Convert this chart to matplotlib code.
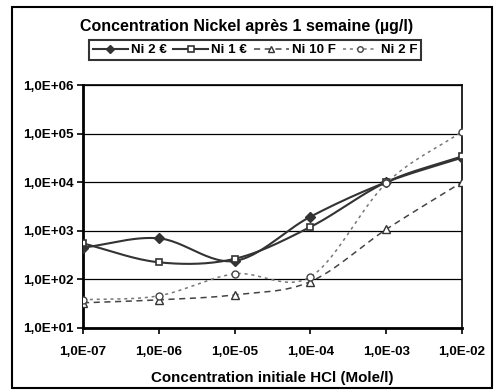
import numpy as np
import matplotlib.pyplot as plt
from matplotlib.lines import Line2D
from matplotlib.patches import Rectangle

plt.rcParams['font.family'] = ['Liberation Sans', 'DejaVu Sans']
plt.rcParams['font.weight'] = 'bold'

# data
x_labels = ["1,0E-07", "1,0E-06", "1,0E-05", "1,0E-04", "1,0E-03", "1,0E-02"]
ni_2_eur = [450, 700, 240, 1950, 10000, 32000]
ni_1_eur = [550, 225, 265, 1200, 10000, 34000]
ni_10_f = [33, 38, 48, 90, 1070, 10000]
ni_2_f = [38, 46, 130, 113, 9500, 110000]
y_ticks = [1e1, 1e2, 1e3, 1e4, 1e5, 1e6]
y_labels = ["1,0E+01", "1,0E+02", "1,0E+03", "1,0E+04", "1,0E+05", "1,0E+06"]


def smooth(xs, ys, n=30):
    # Catmull-Rom through the points, in log space (like Excel smoothed lines)
    xs = np.asarray(xs, float)
    ly = np.log10(ys)
    px = np.concatenate([[2 * xs[0] - xs[1]], xs, [2 * xs[-1] - xs[-2]]])
    py = np.concatenate([[2 * ly[0] - ly[1]], ly, [2 * ly[-1] - ly[-2]]])
    ox, oy = [], []
    t = np.linspace(0, 1, n)
    for i in range(1, len(px) - 2):
        p0, p1, p2, p3 = [np.array([px[j], py[j]]) for j in range(i - 1, i + 3)]
        m1 = (p2 - p0) / 6
        m2 = (p3 - p1) / 6
        for tt in t:
            b = ((1 - tt) ** 3 * p1 + 3 * (1 - tt) ** 2 * tt * (p1 + m1)
                 + 3 * (1 - tt) * tt ** 2 * (p2 - m2) + tt ** 3 * p2)
            ox.append(b[0])
            oy.append(b[1])
    return np.array(ox), 10 ** np.array(oy)


fig = plt.figure(figsize=(4.94, 3.90), dpi=100)
fig.patches.append(Rectangle((12 / 494, 1 - 388 / 390), 480 / 494, 381 / 390,
                             transform=fig.transFigure, fill=False, lw=1.5,
                             edgecolor='black'))

ax = fig.add_axes([83 / 494, 1 - 328 / 390, 379 / 494, 243 / 390])
xi = np.arange(len(x_labels))

series = [
    (ni_2_eur, "Ni 2 €", dict(color='#333333', ls='-', lw=1.5), dict(marker='D', ms=5, mfc='#333333', mec='#333333')),
    (ni_1_eur, "Ni 1 €", dict(color='#333333', ls='-', lw=1.5), dict(marker='s', ms=5, mfc='white', mec='#333333', mew=1.2)),
    (ni_10_f, "Ni 10 F", dict(color='#444444', ls=(0, (4, 3)), lw=1.1), dict(marker='^', ms=6, mfc='white', mec='#333333', mew=1.0)),
    (ni_2_f, "Ni 2 F", dict(color='#777777', ls=(0, (2, 2.5)), lw=1.1), dict(marker='o', ms=5, mfc='white', mec='#444444', mew=1.0)),
]

handles = []
for ys, name, lst, mst in series:
    sx, sy = smooth(xi, ys)
    ax.plot(sx, sy, **lst, zorder=3)
    ax.plot(xi, ys, ls='none', **mst, zorder=4)
    leg_mst = dict(mst)
    leg_mst['ms'] = mst['ms'] - 1
    handles.append(Line2D([], [], label=name, **lst, **leg_mst))

ax.set_yscale('log')
ax.set_ylim(1e1, 1e6)
ax.set_xlim(0, len(x_labels) - 1)
ax.set_yticks(y_ticks)
ax.set_yticklabels(y_labels)
ax.minorticks_off()
ax.set_xticks(xi)
ax.set_xticklabels(x_labels)
ax.tick_params(labelsize=9.7, direction='out', length=4, width=1.2, pad=3)
ax.tick_params(axis='x', pad=9)
ax.grid(axis='y', color='black', lw=0.9)
for s in ['left', 'bottom']:
    ax.spines[s].set_linewidth(2)
for s in ['top', 'right']:
    ax.spines[s].set_linewidth(1.2)
ax.set_xlabel("Concentration initiale HCl (Mole/l)", fontsize=10.9, fontweight='bold', labelpad=9)

fig.text(0.5, 1 - 26 / 390, "Concentration Nickel après 1 semaine (µg/l)",
         ha='center', va='center', fontsize=11.5, fontweight='bold')
leg = fig.legend(handles=handles, loc='center', bbox_to_anchor=(255 / 494, 1 - 50 / 390),
                 ncol=4, fontsize=9.6, frameon=True, fancybox=False, edgecolor='black',
                 handlelength=2.6, handletextpad=0.25, columnspacing=0.5, borderpad=0.3,
                 borderaxespad=0)
leg.get_frame().set_linewidth(1.5)

fig.savefig("out.png", dpi=100)
